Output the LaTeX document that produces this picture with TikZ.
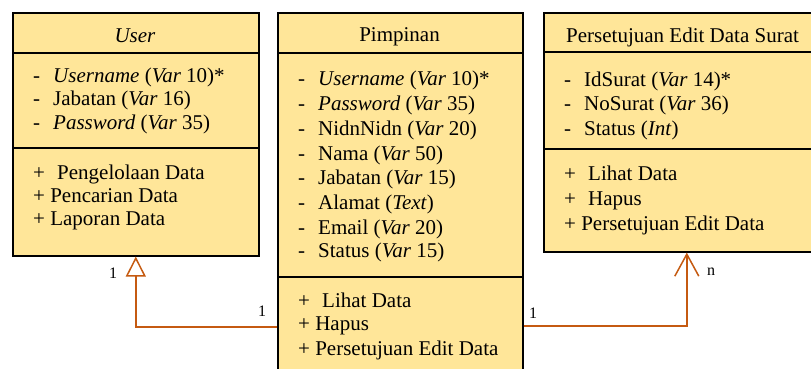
\documentclass[tikz,border=0pt]{standalone}
\usepackage{fontspec}
\setmainfont{Liberation Serif}
\usetikzlibrary{arrows.meta}
\definecolor{boxfill}{HTML}{FFE699}
\definecolor{linkc}{HTML}{C55A11}
\newcommand{\attrline}[1]{\makebox[20pt][l]{-}#1}
\newcommand{\methwide}[1]{\makebox[24pt][l]{+}#1}
\begin{document}
\begin{tikzpicture}[x=1pt,y=-1pt,
  classbox/.style={draw=black, line width=1.6pt, fill=boxfill, inner sep=0pt, anchor=north west},
  sepline/.style={draw=black, line width=1.6pt},
  txt/.style={anchor=west, inner sep=0pt, font=\fontsize{21}{25}\selectfont, text height=20pt, text depth=5pt},
  ttl/.style={txt, anchor=center},
  conn/.style={draw=linkc, line width=1.5pt},
  mult/.style={inner sep=0pt, font=\fontsize{16}{19}\selectfont}]
\useasboundingbox (0,0) rectangle (811,369);
\clip (0,0) rectangle (811,369);

% boxes
\node[classbox, minimum width=246pt, minimum height=243pt] (user) at (12,12) {};
\node[classbox, minimum width=245pt, minimum height=380pt] (pimp) at (277,12) {};
\node[classbox, minimum width=286pt, minimum height=239pt] (pers) at (543,12) {};

\draw[sepline] ([yshift=-41pt]user.north west) -- ([yshift=-41pt]user.north east);
\draw[sepline] ([yshift=-136pt]user.north west) -- ([yshift=-136pt]user.north east);
\draw[sepline] ([yshift=-41pt]pimp.north west) -- ([yshift=-41pt]pimp.north east);
\draw[sepline] ([yshift=-265pt]pimp.north west) -- ([yshift=-265pt]pimp.north east);
\draw[sepline] ([yshift=-40pt]pers.north west) -- ([yshift=-40pt]pers.north east);
\draw[sepline] ([yshift=-137pt]pers.north west) -- ([yshift=-137pt]pers.north east);

% User
\node[ttl] (ut) at (135,35) {\textit{User}};
\node[txt] (ua1) at (33,75) {\attrline{\textit{Username} (\textit{Var} 10)*}};
\node[txt] (ua2) at (33,98) {\attrline{Jabatan (\textit{Var} 16)}};
\node[txt] (ua3) at (33,122) {\attrline{\textit{Password} (\textit{Var} 35)}};
\node[txt] (um1) at (33,172) {\methwide{Pengelolaan Data}};
\node[txt] (um2) at (33,195) {+ Pencarian Data};
\node[txt] (um3) at (33,218) {+ Laporan Data};

% Pimpinan
\node[ttl] (pt) at (399.5,34) {Pimpinan};
\node[txt] (pa1) at (298,78) {\attrline{\textit{Username} (\textit{Var} 10)*}};
\node[txt] (pa2) at (298,103) {\attrline{\textit{Password} (\textit{Var} 35)}};
\node[txt] (pa3) at (298,128) {\attrline{NidnNidn (\textit{Var} 20)}};
\node[txt] (pa4) at (298,153) {\attrline{Nama (\textit{Var} 50)}};
\node[txt] (pa5) at (298,177) {\attrline{Jabatan (\textit{Var} 15)}};
\node[txt] (pa6) at (298,202) {\attrline{Alamat (\textit{Text})}};
\node[txt] (pa7) at (298,227) {\attrline{Email (\textit{Var} 20)}};
\node[txt] (pa8) at (298,250) {\attrline{Status (\textit{Var} 15)}};
\node[txt] (pm1) at (298,300) {\methwide{Lihat Data}};
\node[txt] (pm2) at (298,323) {+ Hapus};
\node[txt] (pm3) at (298,348) {+ Persetujuan Edit Data};

% Persetujuan Edit Data Surat
\node[txt] (st) at (566,35) {Persetujuan Edit Data Surat};
\node[txt] (sa1) at (564,79) {\attrline{IdSurat (\textit{Var} 14)*}};
\node[txt] (sa2) at (564,103) {\attrline{NoSurat (\textit{Var} 36)}};
\node[txt] (sa3) at (564,128) {\attrline{Status (\textit{Int})}};
\node[txt] (sm1) at (564,173) {\methwide{Lihat Data}};
\node[txt] (sm2) at (564,198) {\methwide{Hapus}};
\node[txt] (sm3) at (564,223) {+ Persetujuan Edit Data};

% connectors
\draw[conn, -{Triangle[open, length=20pt, width=20pt]}] (pimp.west |- 0,327) -| (user.south);
\draw[conn, -{Straight Barb[length=22pt, width=24pt]}] (pimp.east |- 0,326) -| (pers.south);

% multiplicities
\node[mult] (m1) at (113,273) {1};
\node[mult] (m2) at (262,311) {1};
\node[mult] (m3) at (533,313) {1};
\node[mult] (m4) at (711,272) {n};
\end{tikzpicture}
\end{document}
